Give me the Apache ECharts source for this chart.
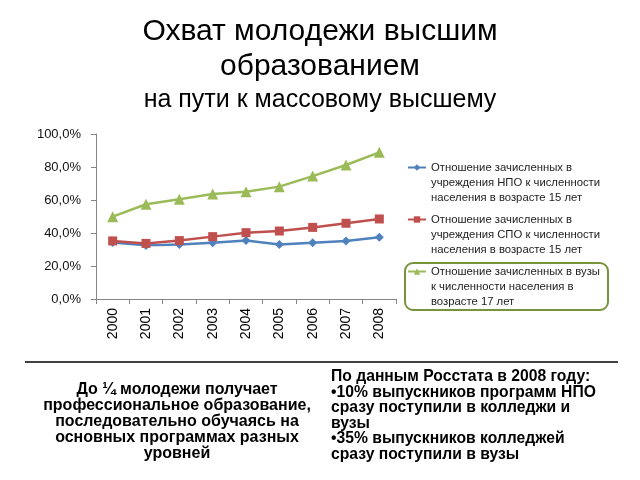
<!DOCTYPE html>
<html>
<head>
<meta charset="utf-8">
<script src="https://cdn.jsdelivr.net/npm/echarts@6/dist/echarts.min.js"></script>
<style>html,body{margin:0;padding:0;background:#fff}#c{width:640px;height:480px}</style>
</head>
<body>
<div id="c"></div>
<script>
const years = ['2000','2001','2002','2003','2004','2005','2006','2007','2008'];
const npo = [34.3, 32.5, 33.0, 34.1, 35.4, 33.1, 34.1, 35.2, 37.4];
const spo = [35.2, 33.7, 35.4, 37.8, 40.2, 41.2, 43.4, 45.9, 48.5];
const vuz = [49.9, 57.4, 60.4, 63.6, 65.0, 68.1, 74.5, 81.2, 88.9];
const yTicks = [0, 20, 40, 60, 80, 100];
const seriesNames = [
  'Отношение зачисленных в\nучреждения НПО к численности\nнаселения в возрасте 15 лет',
  'Отношение зачисленных в\nучреждения СПО к численности\nнаселения в возрасте 15 лет',
  'Отношение зачисленных в вузы\nк численности населения в\nвозрасте 17 лет'
];
const titleMain = 'Охват молодежи высшим\nобразованием';
const titleSub = 'на пути к массовому высшему';
const noteLeft = 'До ¼ молодежи получает\nпрофессиональное образование,\nпоследовательно обучаясь на\nосновных программах разных\nуровней';
const noteRight = 'По данным Росстата в 2008 году:\n•10% выпускников программ НПО\nсразу поступили в колледжи и\nвузы\n•35% выпускников колледжей\nсразу поступили в вузы';

const chart = echarts.init(document.getElementById('c'));
const mk = (name, data, color, symbol, size) => ({
  name, type: 'line', data, symbol, symbolSize: size,
  lineStyle: { color, width: 2.5 }, itemStyle: { color },
  animation: false
});
chart.setOption({
  animation: false,
  title: {
    text: titleMain, subtext: titleSub, left: 'center', top: 14, itemGap: 2, padding: 0,
    textStyle: { fontFamily: 'Liberation Sans', fontSize: 30, fontWeight: 'normal', color: '#000', lineHeight: 35 },
    subtextStyle: { fontFamily: 'Liberation Sans', fontSize: 25, color: '#000', lineHeight: 28 }
  },
  grid: { left: 96, right: 244, top: 134, bottom: 181, containLabel: false },
  xAxis: {
    type: 'category', data: years, boundaryGap: true,
    axisLine: { lineStyle: { color: '#868686' } },
    axisTick: { show: true, length: 5, lineStyle: { color: '#868686' }, alignWithLabel: false },
    axisLabel: { rotate: 90, margin: 9, fontFamily: 'Liberation Sans', fontSize: 14, color: '#000' }
  },
  yAxis: {
    type: 'value', min: 0, max: 100, interval: 20,
    axisLine: { show: true, lineStyle: { color: '#868686' } },
    axisTick: { show: true, length: 5, lineStyle: { color: '#868686' } },
    splitLine: { show: false },
    axisLabel: {
      margin: 15, fontFamily: 'Liberation Sans', fontSize: 13, color: '#111',
      formatter: v => yTicks.includes(v) ? v.toFixed(1).replace('.', ',') + '%' : ''
    }
  },
  legend: {
    orient: 'vertical', left: 407, top: 130, itemGap: -23, padding: 0,
    itemWidth: 18, itemHeight: 8,
    formatter: name => '\n\n' + name,
    textStyle: { fontFamily: 'Liberation Sans', fontSize: 11.3, color: '#222', lineHeight: 15 },
    data: seriesNames
  },
  series: [
    mk(seriesNames[0], npo, '#4F81BD', 'diamond', 9),
    mk(seriesNames[1], spo, '#C0504D', 'rect', 9),
    mk(seriesNames[2], vuz, '#9BBB59', 'triangle', 11)
  ],
  graphic: [
    { type: 'rect', shape: { x: 405, y: 263, width: 203, height: 47, r: 8 },
      style: { fill: 'none', stroke: '#77933C', lineWidth: 2 }, silent: true },
    { type: 'line', shape: { x1: 25, y1: 362, x2: 618, y2: 362 },
      style: { stroke: '#000', lineWidth: 1.5 } },
    { type: 'text', style: { text: noteLeft, x: 177, y: 382, textAlign: 'center', textVerticalAlign: 'top',
      fontFamily: 'Liberation Sans', fontSize: 16, fontWeight: 'bold', lineHeight: 16, fill: '#000' } },
    { type: 'text', style: { text: noteRight, x: 331, y: 369, textAlign: 'left', textVerticalAlign: 'top',
      fontFamily: 'Liberation Sans', fontSize: 15.7, fontWeight: 'bold', lineHeight: 15.5, fill: '#000' } }
  ]
});
</script>
</body>
</html>
